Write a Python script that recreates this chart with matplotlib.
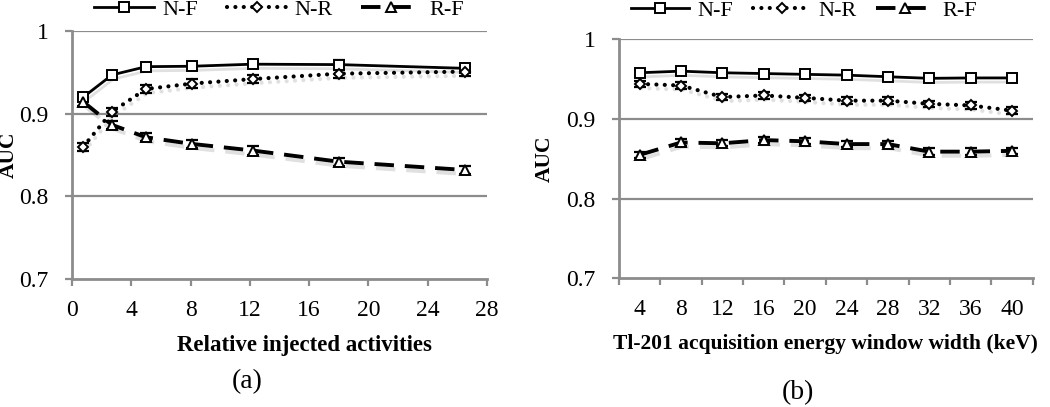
import numpy as np
import matplotlib
matplotlib.use('Agg')
import matplotlib.pyplot as plt
import matplotlib.patheffects as pe
from matplotlib.lines import Line2D

plt.rcParams['font.family'] = ['Liberation Serif', 'DejaVu Serif']

# (a) relative injected activities
act_x = [0.75, 2.7, 5.0, 8.1, 12.2, 18.0, 26.5]
act_nf = [0.920, 0.947, 0.957, 0.9575, 0.960, 0.9595, 0.955]
act_nr = [0.860, 0.9025, 0.930, 0.9365, 0.942, 0.9485, 0.951]
act_rf = [0.9145, 0.8865, 0.8715, 0.8635, 0.8555, 0.842, 0.832]
act_err = [0.005, 0.005, 0.005, 0.005, 0.005, 0.005, 0.005]

# (b) Tl-201 energy window width (keV)
win_x = [4, 8, 12, 16, 20, 24, 28, 32, 36, 40]
win_nf = [0.958, 0.960, 0.958, 0.957, 0.956, 0.955, 0.953, 0.951, 0.9515, 0.9515]
win_nr = [0.944, 0.942, 0.9275, 0.9295, 0.9265, 0.923, 0.923, 0.919, 0.917, 0.9105]
win_rf = [0.855, 0.8705, 0.8695, 0.8735, 0.872, 0.8685, 0.8685, 0.859, 0.859, 0.860]
win_err = [0.004] * 10

series_labels = ['N-F', 'N-R', 'R-F']

grey = '#8c8c8c'
shadow = [pe.SimpleLineShadow(offset=(1.0, -3.0), alpha=0.12, shadow_color='k'), pe.Normal()]

styles = [
    dict(ls='-', lw=2.0, marker='s', ms=6.5, dash_capstyle='butt'),
    dict(ls=(0, (0.01, 2.0)), lw=3.0, marker='D', ms=5.5, dash_capstyle='round'),
    dict(ls=(0, (5.0, 2.8)), lw=2.8, marker='^', ms=6.5, dash_capstyle='butt'),
]

fig = plt.figure(figsize=(10.5, 4.07), dpi=100)
ax1 = fig.add_axes([0.0686, 0.3145, 0.395, 0.609])
ax2 = fig.add_axes([0.5895, 0.316, 0.394, 0.5875])


def draw(ax, x, ys, err):
    for y, st in zip(ys, styles):
        ax.errorbar(x, y, yerr=err, color='black', ls='none', elinewidth=1.3,
                    capsize=4.5, capthick=1.6, zorder=3)
        ln, = ax.plot(x, y, color='black', ls=st['ls'], lw=st['lw'],
                      dash_capstyle=st['dash_capstyle'], zorder=2)
        ln.set_path_effects(shadow)
        ax.plot(x, y, ls='none', marker=st['marker'], ms=st['ms'],
                mfc='white', mec='black', mew=1.4, zorder=4)


def style_axes(ax):
    ax.set_ylim(0.7, 1.0)
    ax.set_yticks([0.7, 0.8, 0.9, 1.0])
    ax.set_yticklabels(['0.7', '0.8', '0.9', '1'])
    for v in [0.8, 0.9, 1.0]:
        ax.axhline(v, color=grey, lw=1.6, zorder=0)
    for s in ['top', 'right']:
        ax.spines[s].set_visible(False)
    for s in ['left', 'bottom']:
        ax.spines[s].set_color(grey)
        ax.spines[s].set_linewidth(2.0)
    ax.tick_params(axis='both', colors=grey, width=1.6, length=5,
                   labelsize=17, labelcolor='black', direction='out')
    ax.tick_params(axis='y', pad=12)
    ax.tick_params(axis='x', pad=10)


draw(ax1, act_x, [act_nf, act_nr, act_rf], act_err)
style_axes(ax1)
ax1.set_xlim(0, 28)
ax1.set_xticks(np.arange(0, 29, 4))
ax1.set_xlabel('Relative injected activities', fontsize=16.5, fontweight='bold',
               labelpad=10, x=0.56)
ax1.set_ylabel('AUC', fontsize=15.5, fontweight='bold')
ax1.yaxis.set_label_coords(-0.128, 0.5)

draw(ax2, win_x, [win_nf, win_nr, win_rf], win_err)
style_axes(ax2)
ax2.set_xlim(2, 42)
ax2.set_xticks(np.arange(2, 43, 4))
ax2.set_xticklabels([])
ax2.set_xticks(win_x, minor=True)
ax2.set_xticklabels([str(v) for v in win_x], minor=True)
ax2.tick_params(axis='x', which='minor', length=0, labelsize=17, pad=15)
ax2.set_xlabel('Tl-201 acquisition energy window width (keV)', fontsize=15.5,
               fontweight='bold', labelpad=10)
ax2.set_ylabel('AUC', fontsize=15.5, fontweight='bold')
ax2.yaxis.set_label_coords(-0.155, 0.5)

handles = [Line2D([], [], color='black', ls=st['ls'], lw=st['lw'],
                  dash_capstyle=st['dash_capstyle'], marker=st['marker'],
                  ms=st['ms'], mfc='white', mec='black', mew=1.4)
           for st in styles]

for ax, xc, yc, hl, cs in [(ax1, 279, 10, 2.7, 1.3), (ax2, 804, 11, 2.6, 0.9)]:
    ax.legend(handles, series_labels, loc='center',
              bbox_to_anchor=(xc / 1050, 1 - yc / 407),
              bbox_transform=fig.transFigure,
              ncol=3, frameon=False, fontsize=16, handlelength=hl,
              handletextpad=0.35, columnspacing=cs, borderaxespad=0,
              borderpad=0)

fig.text(247 / 1050, 1 - 382 / 407, '(a)', fontsize=20, ha='center', va='center')
fig.text(798 / 1050, 1 - 393 / 407, '(b)', fontsize=20, ha='center', va='center')

fig.savefig('out.png', dpi=100)
